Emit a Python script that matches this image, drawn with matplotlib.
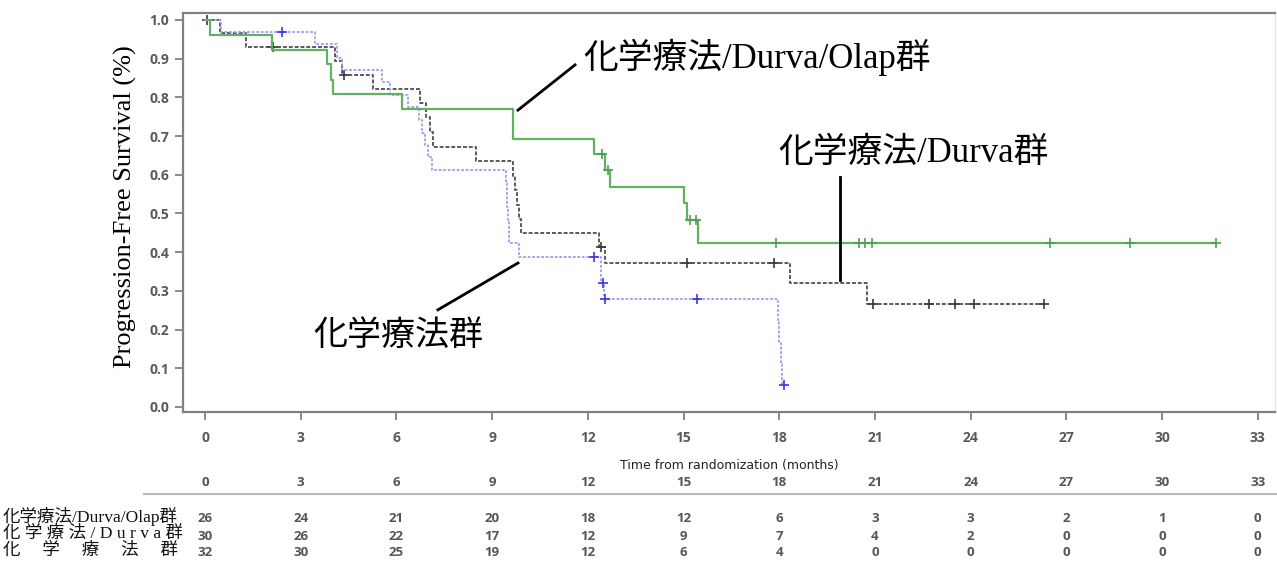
import numpy as np
import matplotlib
matplotlib.use("Agg")
import matplotlib.pyplot as plt
import matplotlib.transforms as mtransforms
from matplotlib.lines import Line2D

plt.rcParams['font.family'] = ['DejaVu Sans']

SERIF_JP = ['Liberation Serif', 'Noto Sans CJK JP']
NUM_FONT = ['Open Sans', 'DejaVu Sans']

# Kaplan-Meier step curves: event times (months) and survival after each step
olap_t = [0, 0.16, 2.09, 3.81, 3.95, 4.02, 6.17, 9.66, 12.2, 12.55, 12.7, 15.0, 15.1, 15.45]
olap_s = [1.0, 0.962, 0.923, 0.885, 0.846, 0.808, 0.769, 0.692, 0.654, 0.612, 0.569, 0.527, 0.483, 0.424]
olap_cens = [12.45, 12.62, 15.2, 15.4, 17.9, 20.5, 20.7, 20.9, 26.5, 29.0, 31.7]
olap_end = 31.7

durva_t = [0, 0.47, 1.3, 4.07, 4.28, 5.26, 6.74, 6.93, 7.05, 7.14, 8.5, 9.66, 9.72, 9.78,
           9.84, 9.92, 12.35, 12.55, 18.35, 20.75]
durva_s = [1.0, 0.966, 0.931, 0.895, 0.859, 0.822, 0.785, 0.749, 0.711, 0.672, 0.635, 0.598,
           0.56, 0.523, 0.486, 0.449, 0.414, 0.372, 0.321, 0.266]
durva_cens = [0.05, 2.12, 4.36, 12.4, 15.1, 17.85, 20.95, 22.7, 23.5, 24.1, 26.3]
durva_end = 26.3

chemo_t = [0, 0.5, 3.45, 4.13, 4.28, 5.54, 5.8, 6.36, 6.7, 6.8, 6.9, 7.0, 7.1, 9.44, 9.46,
           9.48, 9.5, 9.52, 9.54, 9.84, 12.42, 12.5, 17.95, 18.0, 18.05, 18.1]
chemo_s = [1.0, 0.969, 0.937, 0.903, 0.871, 0.84, 0.806, 0.775, 0.741, 0.709, 0.677, 0.645,
           0.612, 0.58, 0.548, 0.516, 0.484, 0.452, 0.423, 0.388, 0.32, 0.279, 0.223, 0.167,
           0.112, 0.056]
chemo_cens = [2.4, 12.2, 12.46, 12.53, 15.42, 18.15]
chemo_end = 18.15

# Number at risk table
risk_times = [0, 3, 6, 9, 12, 15, 18, 21, 24, 27, 30, 33]
risk_olap = [26, 24, 21, 20, 18, 12, 6, 3, 3, 2, 1, 0]
risk_durva = [30, 26, 22, 17, 12, 9, 7, 4, 2, 0, 0, 0]
risk_chemo = [32, 30, 25, 19, 12, 6, 4, 0, 0, 0, 0, 0]
risk_labels = ["化学療法/Durva/Olap群", "化 学 療 法 / D u r v a 群", "化　 学　 療　 法　 群"]

y_ticks = [0.0, 0.1, 0.2, 0.3, 0.4, 0.5, 0.6, 0.7, 0.8, 0.9, 1.0]


def km_curve(ax, t, s, cens, t_end, line_kw, mark_color):
    t = list(t) + [t_end]
    s = list(s) + [s[-1]]
    ax.plot(t, s, drawstyle='steps-post', **line_kw)
    idx = np.searchsorted(np.array(t[:-1]), cens, side='right') - 1
    cy = np.array(s)[idx]
    ax.plot(cens, cy, ls='none', marker='+', ms=6.5, mew=1.2, color=mark_color)


fig = plt.figure(figsize=(12.77, 5.64), dpi=100)
W, H = 1277.0, 564.0
ax = fig.add_axes([183 / W, 1 - 412 / H, (1275 - 183) / W, (412 - 13) / H])

km_curve(ax, durva_t, durva_s, durva_cens, durva_end,
         dict(color='#5a5a5a', lw=1.4, ls=(0, (2, 1))), '#3a3a3a')
km_curve(ax, chemo_t, chemo_s, chemo_cens, chemo_end,
         dict(color='#9c9cf0', lw=1.3, ls=(0, (1.5, 1))), '#3838e0')
km_curve(ax, olap_t, olap_s, olap_cens, olap_end,
         dict(color='#62b062', lw=1.6), '#4f9f4f')

ax.set_xlim(-0.69, 33.54)
ax.set_ylim(-0.013, 1.018)
ax.set_xticks(risk_times)
ax.set_yticks(y_ticks)
ax.set_yticklabels([f"{v:.1f}" for v in y_ticks])
ax.tick_params(axis='both', direction='out', length=6, width=1.3, color='#808080',
               labelcolor='#5a5a5a', labelsize=10)
ax.tick_params(axis='x', pad=8)
ax.tick_params(axis='y', pad=4)
for lab in ax.get_xticklabels() + ax.get_yticklabels():
    lab.set_family(NUM_FONT)
    lab.set_fontweight('bold')
for side in ['left', 'bottom', 'top']:
    ax.spines[side].set_color('#808080')
    ax.spines[side].set_linewidth(1.6)
ax.spines['right'].set_color('#e6e6e6')
ax.spines['right'].set_linewidth(1.0)

fig.text(125 / W, 1 - 207 / H, "Progression-Free Survival (%)", rotation=90,
         ha='center', va='center', fontsize=19, family=SERIF_JP)

# group labels with leader lines
ax.text(11.85, 0.904, "化学療法/Durva/Olap群", fontsize=25, family=SERIF_JP,
        ha='left', va='center')
ax.plot([9.81, 11.6], [0.767, 0.884], color='black', lw=2)
ax.text(17.96, 0.655, "化学療法/Durva群", fontsize=25, family=SERIF_JP,
        ha='left', va='center')
ax.plot([19.9, 19.9], [0.594, 0.328], color='black', lw=2)
ax.text(3.39, 0.183, "化学療法群", fontsize=24.5, family=SERIF_JP,
        ha='left', va='center')
ax.plot([7.3, 9.81], [0.251, 0.372], color='black', lw=2)

# number at risk table below the axes
trans = mtransforms.blended_transform_factory(ax.transData, fig.transFigure)
fig.text(729 / W, 1 - 465 / H, "Time from randomization (months)", ha='center',
         va='center', fontsize=9, color='#222222')
for t in risk_times:
    ax.text(t, 1 - 483 / H, str(t), transform=trans, ha='center', va='center',
            fontsize=9.5, color='#555555', family=NUM_FONT, fontweight='bold')
fig.add_artist(Line2D([144 / W, 1.0], [1 - 494 / H, 1 - 494 / H],
                      transform=fig.transFigure, color='#bbbbbb', lw=1.5))

row_y = [1 - 519 / H, 1 - 536 / H, 1 - 553 / H]
for y, counts, label in zip(row_y, [risk_olap, risk_durva, risk_chemo], risk_labels):
    fig.text(3 / W, y + 0.004, label, ha='left', va='center', fontsize=12.6,
             family=SERIF_JP, color='#111111')
    for t, n in zip(risk_times, counts):
        ax.text(t, y, str(n), transform=trans, ha='center', va='center',
                fontsize=9.5, color='#555555', family=NUM_FONT, fontweight='bold')

fig.savefig('out.png', dpi=100)
